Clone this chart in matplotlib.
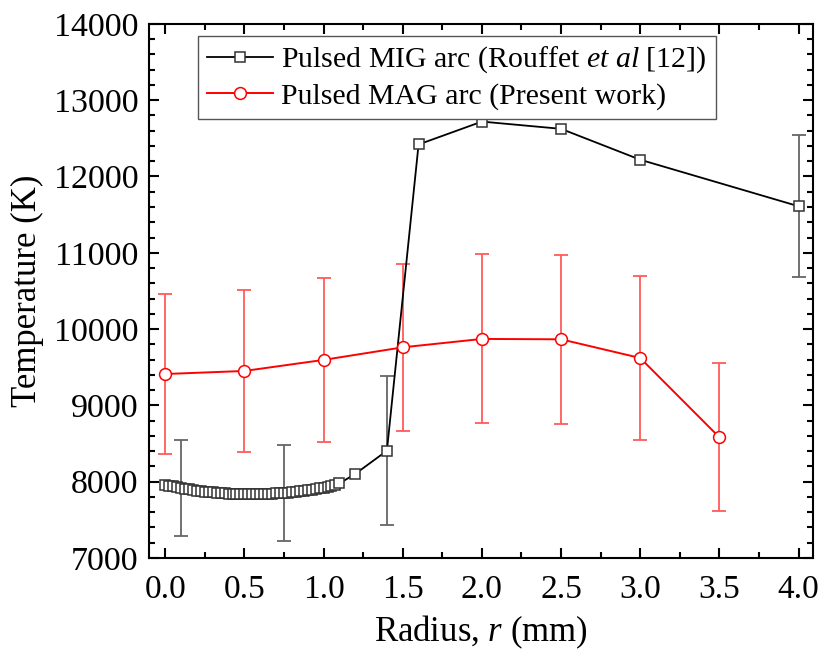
import matplotlib
matplotlib.use("Agg")
import matplotlib.pyplot as plt

# 글꼴 설정 (Times 느낌)
plt.rcParams['font.family'] = ['Liberation Serif', 'DejaVu Serif']
plt.rcParams['mathtext.fontset'] = 'custom'
plt.rcParams['mathtext.rm'] = 'Liberation Serif'
plt.rcParams['mathtext.it'] = 'Liberation Serif:italic'

# MIG arc (Rouffet et al) - dense part then sparse points
mig_x = [0.0, 0.025, 0.05, 0.075, 0.1, 0.125, 0.15, 0.175, 0.2, 0.225,
         0.25, 0.275, 0.3, 0.325, 0.35, 0.375, 0.4, 0.425, 0.45, 0.475,
         0.5, 0.525, 0.55, 0.575, 0.6, 0.625, 0.65, 0.675, 0.7, 0.725,
         0.75, 0.775, 0.8, 0.825, 0.85, 0.875, 0.9, 0.925, 0.95, 0.975,
         1.0, 1.025, 1.05, 1.075, 1.1,
         1.2, 1.4, 1.6, 2.0, 2.5, 3.0, 4.0]
mig_t = [7952, 7945, 7935, 7925, 7915, 7905, 7897, 7889, 7882, 7875,
         7869, 7863, 7858, 7853, 7849, 7846, 7843, 7840, 7838, 7837,
         7836, 7835, 7835, 7835, 7836, 7838, 7840, 7842, 7845, 7848,
         7852, 7856, 7861, 7866, 7872, 7878, 7885, 7892, 7900, 7909,
         7918, 7928, 7940, 7955, 7975,
         8100, 8404, 12420, 12720, 12625, 12220, 11610]

# MIG error bars
mig_err_x = [0.1, 0.75, 1.4, 4.0]
mig_err_t = [7915, 7852, 8404, 11610]
mig_err = [635, 632, 978, 928]

# MAG arc (present work)
mag_x = [0.0, 0.5, 1.0, 1.5, 2.0, 2.5, 3.0, 3.5]
mag_t = [9410, 9450, 9595, 9760, 9870, 9865, 9620, 8580]
mag_err = [1055, 1063, 1080, 1097, 1108, 1108, 1081, 968]

fig = plt.figure(figsize=(8.21, 6.57), dpi=100)
ax = fig.add_axes([0.182, 0.151, 0.808, 0.8125])

ax.errorbar(mig_err_x, mig_err_t, yerr=mig_err, fmt='none', ecolor='#666666',
            elinewidth=1.3, capsize=5, capthick=1.3, zorder=2)
ax.errorbar(mag_x, mag_t, yerr=mag_err, fmt='none', ecolor='#ff5a5a',
            elinewidth=1.3, capsize=5, capthick=1.3, zorder=2)

ax.plot(mig_x, mig_t, color='black', lw=1.3, marker='s', markersize=7.5,
        markerfacecolor='white', markeredgecolor='#333333', markeredgewidth=1.1,
        label=r'Pulsed MIG arc (Rouffet $et\ al$ [12])', zorder=3)
ax.plot(mag_x, mag_t, color='red', lw=1.4, marker='o', markersize=8.5,
        markerfacecolor='white', markeredgecolor='red', markeredgewidth=1.1,
        label='Pulsed MAG arc (Present work)', zorder=4)

ax.set_xlim(-0.1, 4.09)
ax.set_ylim(7000, 14000)
ax.set_xticks([0.0, 0.5, 1.0, 1.5, 2.0, 2.5, 3.0, 3.5, 4.0])
ax.set_xticks([0.25, 0.75, 1.25, 1.75, 2.25, 2.75, 3.25, 3.75], minor=True)
ax.set_yticks([7000, 8000, 9000, 10000, 11000, 12000, 13000, 14000])
ax.set_yticks([v for v in range(7000, 14001, 200)], minor=True)
ax.set_xticklabels(['0.0', '0.5', '1.0', '1.5', '2.0', '2.5', '3.0', '3.5', '4.0'])

ax.tick_params(which='both', direction='in', top=True, right=True, width=1.5)
ax.tick_params(which='major', length=7)
ax.tick_params(which='minor', length=4.3)
ax.tick_params(axis='x', which='major', pad=12, labelsize=24)
ax.tick_params(axis='y', which='major', pad=8, labelsize=24.5)
for s in ax.spines.values():
    s.set_linewidth(1.5)

ax.set_xlabel(r'Radius, $r$ (mm)', fontsize=25, labelpad=6)
ax.set_ylabel('Temperature (K)', fontsize=25, labelpad=7)

leg = ax.legend(loc='upper left', bbox_to_anchor=(0.073, 0.978), borderaxespad=0,
                fontsize=21.5, fancybox=False, edgecolor='#555555',
                handlelength=2.2, handletextpad=0.3, borderpad=0.3,
                labelspacing=0.25, framealpha=1)
leg.get_frame().set_linewidth(1.0)

plt.savefig("out.png", dpi=100)
